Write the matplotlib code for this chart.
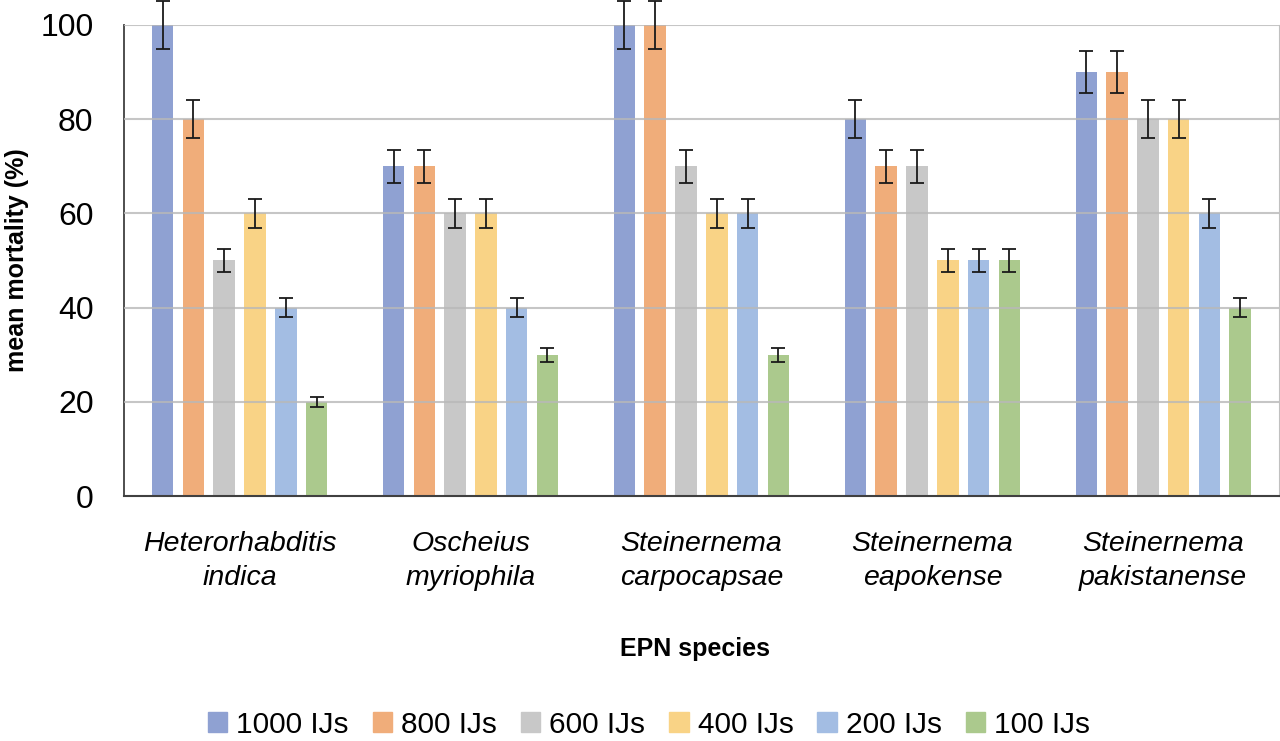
import numpy as np
import matplotlib.pyplot as plt
from matplotlib.patches import Patch

plt.rcParams['font.family'] = ['Liberation Sans', 'DejaVu Sans']

species = ['Heterorhabditis\nindica', 'Oscheius\nmyriophila', 'Steinernema\ncarpocapsae',
           'Steinernema\neapokense', 'Steinernema\npakistanense']
doses = ['1000 IJs', '800 IJs', '600 IJs', '400 IJs', '200 IJs', '100 IJs']
clrs = ['#8fa1d2', '#f0ad7a', '#c8c8c8', '#f9d386', '#a3bde3', '#abc98d']

# mortality per dose, one value per species
m1000 = [100, 70, 100, 80, 90]
m800 = [80, 70, 100, 70, 90]
m600 = [50, 60, 70, 70, 80]
m400 = [60, 60, 60, 50, 80]
m200 = [40, 40, 60, 50, 60]
m100 = [20, 30, 30, 50, 40]
# error bars
e1000 = [5.0, 3.5, 5.0, 4.0, 4.5]
e800 = [4.0, 3.5, 5.0, 3.5, 4.5]
e600 = [2.5, 3.0, 3.5, 3.5, 4.0]
e400 = [3.0, 3.0, 3.0, 2.5, 4.0]
e200 = [2.0, 2.0, 3.0, 2.5, 3.0]
e100 = [1.0, 1.5, 1.5, 2.5, 2.0]

vals = [m1000, m800, m600, m400, m200, m100]
errs = [e1000, e800, e600, e400, e200, e100]

fig = plt.figure(figsize=(12.8, 7.41), dpi=100)
ax = fig.add_axes([0.097, 0.3306, 0.902, 0.6357])

x = np.arange(len(species))
slot = 0.8 / 6
w = slot * 0.7
for i in range(6):
    xp = x - 0.4 + slot * (i + 0.5)
    ax.bar(xp, vals[i], width=w, color=clrs[i], zorder=2)
    ax.errorbar(xp, vals[i], yerr=errs[i], fmt='none', ecolor='#1a1a1a',
                elinewidth=1.3, capsize=5, capthick=1.3, zorder=4, clip_on=False)

for yv in [20, 40, 60, 80, 100]:
    ax.axhline(yv, color='#b8b8b8', lw=1.5, alpha=0.8, zorder=3)

ax.set_xlim(-0.5, 4.5)
ax.set_ylim(0, 100)
ax.set_yticks([0, 20, 40, 60, 80, 100])
ax.tick_params(axis='y', labelsize=23, length=0, pad=22)
ax.set_xticks(x)
ax.set_xticklabels(species, fontsize=20.5, style='italic', linespacing=1.42)
ax.tick_params(axis='x', length=0, pad=25)
ax.spines['top'].set_visible(False)
ax.spines['right'].set_color('#c0c0c0')
ax.spines['left'].set_color('#404040')
ax.spines['bottom'].set_color('#404040')
ax.spines['left'].set_linewidth(1.3)
ax.spines['bottom'].set_linewidth(1.5)

ax.set_ylabel('mean mortality (%)', fontsize=18, fontweight='bold', labelpad=8)
fig.text(0.543, 0.124, 'EPN species', fontsize=18, fontweight='bold', ha='center', va='center')

handles = [Patch(color=c) for c in clrs]
fig.legend(handles, doses, loc='center', bbox_to_anchor=(0.507, 0.022), ncol=6,
           frameon=False, fontsize=21.5, handlelength=0.65, handleheight=0.65,
           handletextpad=0.3, columnspacing=0.8, borderaxespad=0)

fig.savefig('out.png', dpi=100)
